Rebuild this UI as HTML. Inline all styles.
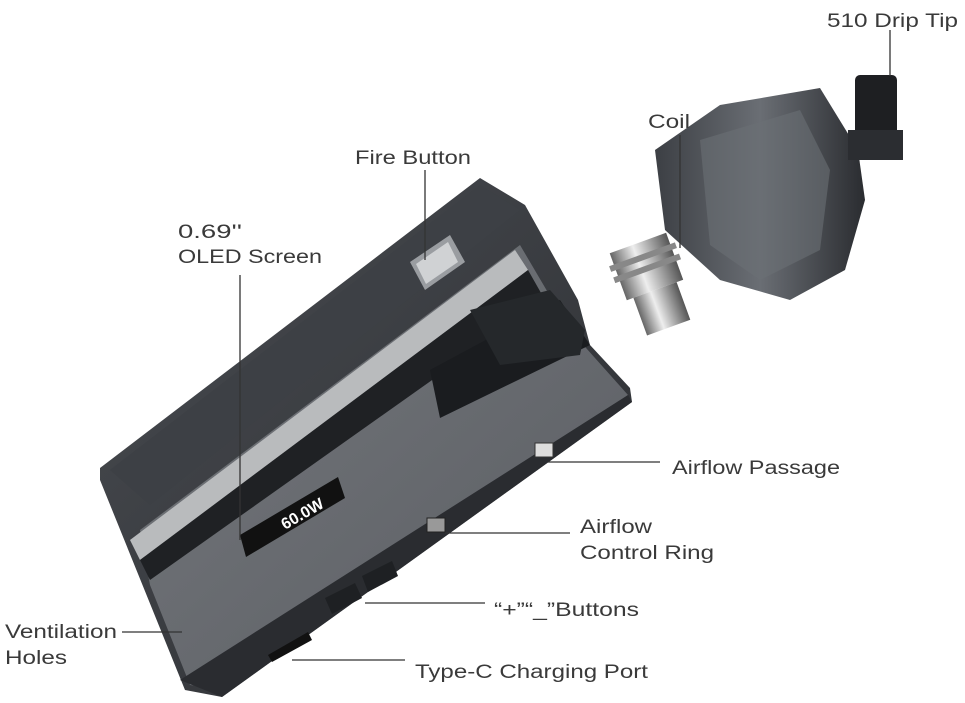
<!DOCTYPE html>
<html><head><meta charset="utf-8"><style>
html,body{margin:0;padding:0;background:#fff;}
svg{display:block;}
text{font-family:"Liberation Sans",sans-serif;font-size:19px;fill:#3a3a3a;}
</style></head><body>
<svg width="965" height="703" viewBox="0 0 965 703" xmlns="http://www.w3.org/2000/svg">
<defs>
<linearGradient id="body" x1="0" y1="0" x2="1" y2="1">
<stop offset="0" stop-color="#4a4d52"/><stop offset="1" stop-color="#2a2c30"/></linearGradient>
<linearGradient id="face" x1="0" y1="0" x2="1" y2="1">
<stop offset="0" stop-color="#75787d"/><stop offset="1" stop-color="#5a5d62"/></linearGradient>
<linearGradient id="pod" x1="0" y1="0" x2="1" y2="0">
<stop offset="0" stop-color="#3c3f44"/><stop offset="0.5" stop-color="#6a6e74"/><stop offset="1" stop-color="#2a2c30"/></linearGradient>
<linearGradient id="metal" x1="0" y1="0" x2="1" y2="0">
<stop offset="0" stop-color="#666"/><stop offset="0.4" stop-color="#eee"/><stop offset="1" stop-color="#555"/></linearGradient>
</defs>
<!-- mod body -->
<polygon points="100,468 480,178 525,205 578,300 590,345 630,388 632,402 222,697 185,690 100,480" fill="url(#body)"/>
<polygon points="110,470 480,185 520,210 150,505" fill="#3d4045"/>
<polygon points="140,530 520,245 570,330 628,395 225,690 190,685 150,585" fill="url(#face)"/>
<polygon points="130,540 515,250 528,270 140,560" fill="#b9bbbd"/>
<polygon points="140,560 528,270 545,300 150,580" fill="#1f2124"/>
<polygon points="180,680 628,395 632,402 222,697" fill="#2a2c30"/>
<polygon points="430,370 560,300 590,345 440,418" fill="#1a1c1f"/>
<polygon points="470,310 550,290 585,330 580,355 500,365" fill="#25282b"/>
<!-- fire button -->
<polygon points="410,262 450,235 465,262 425,290" fill="#9a9da1"/>
<polygon points="416,264 448,242 458,262 426,284" fill="#d0d2d4"/>
<!-- screen -->
<polygon points="240,535 338,477 345,498 246,557" fill="#111"/>
<text x="0" y="0" transform="translate(285,530) rotate(-30)" style="font-size:16px;fill:#fff;font-weight:bold;">60.0W</text>
<polygon points="325,598 355,583 362,598 332,614" fill="#1e2023"/>
<polygon points="362,576 392,561 398,576 368,592" fill="#1e2023"/>
<polygon points="268,655 308,632 312,640 272,662" fill="#111"/>
<rect x="535" y="443" width="18" height="14" fill="#ddd" stroke="#333"/>
<rect x="427" y="518" width="18" height="14" fill="#999" stroke="#222"/>
<!-- pod -->
<polygon points="655,150 720,105 820,88 858,150 865,200 845,270 790,300 720,280 665,230" fill="url(#pod)"/>
<polygon points="700,140 800,110 830,170 820,250 760,280 710,245" fill="#6b6f75" opacity="0.6"/>
<rect x="855" y="75" width="42" height="70" rx="5" fill="#1e1f22"/>
<rect x="848" y="130" width="55" height="30" fill="#2b2d31"/>
<!-- coil -->
<g transform="rotate(-20 655 290)">
<rect x="625" y="240" width="60" height="50" fill="url(#metal)"/>
<rect x="620" y="252" width="70" height="6" fill="#888"/>
<rect x="620" y="264" width="70" height="6" fill="#888"/>
<rect x="632" y="290" width="46" height="40" fill="url(#metal)"/>
</g>
<!-- leader lines -->
<g stroke="#333" stroke-width="1.3" fill="none">
<line x1="890" y1="30" x2="890" y2="76"/>
<line x1="680" y1="135" x2="680" y2="248"/>
<line x1="425" y1="170" x2="425" y2="260"/>
<line x1="240" y1="275" x2="240" y2="540"/>
<line x1="548" y1="462" x2="660" y2="462"/>
<line x1="445" y1="533" x2="570" y2="533"/>
<line x1="365" y1="603" x2="485" y2="603"/>
<line x1="122" y1="632" x2="182" y2="632"/>
<line x1="292" y1="660" x2="405" y2="660"/>
</g>
<!-- labels -->
<text x="827" y="27" textLength="131" lengthAdjust="spacingAndGlyphs">510 Drip Tip</text>
<text x="648" y="128" textLength="42" lengthAdjust="spacingAndGlyphs">Coil</text>
<text x="355" y="164" textLength="116" lengthAdjust="spacingAndGlyphs">Fire Button</text>
<text x="178" y="238" textLength="64" lengthAdjust="spacingAndGlyphs">0.69''</text>
<text x="178" y="263" textLength="144" lengthAdjust="spacingAndGlyphs">OLED Screen</text>
<text x="672" y="474" textLength="168" lengthAdjust="spacingAndGlyphs">Airflow Passage</text>
<text x="580" y="533" textLength="72" lengthAdjust="spacingAndGlyphs">Airflow</text>
<text x="580" y="559" textLength="134" lengthAdjust="spacingAndGlyphs">Control Ring</text>
<text x="494" y="616" textLength="145" lengthAdjust="spacingAndGlyphs">“+”“_”Buttons</text>
<text x="5" y="638" textLength="112" lengthAdjust="spacingAndGlyphs">Ventilation</text>
<text x="5" y="664" textLength="62" lengthAdjust="spacingAndGlyphs">Holes</text>
<text x="415" y="678" textLength="233" lengthAdjust="spacingAndGlyphs">Type-C Charging Port</text>
</svg>
</body></html>
